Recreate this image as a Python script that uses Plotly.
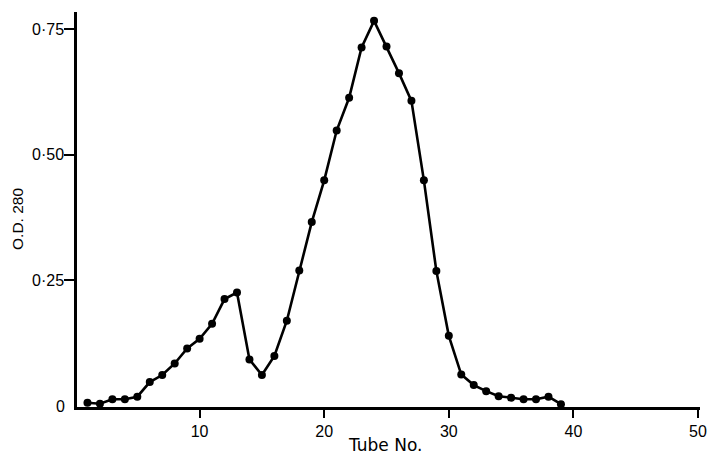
import plotly.graph_objects as go

tubes = list(range(1, 40))
od280 = [0.007, 0.005, 0.014, 0.014, 0.019, 0.048, 0.062, 0.085, 0.115, 0.134,
         0.164, 0.213, 0.226, 0.093, 0.062, 0.100, 0.170, 0.270, 0.366, 0.449,
         0.548, 0.613, 0.713, 0.766, 0.715, 0.662, 0.607, 0.449, 0.269, 0.140,
         0.063, 0.042, 0.030, 0.020, 0.017, 0.014, 0.014, 0.019, 0.004]

x_ticks = [10, 20, 30, 40, 50]
y_ticks = [0.25, 0.50, 0.75]
y_ticktext = ["0·25", "0·50", "0·75"]

FONT = "Liberation Sans, Arial, sans-serif"

fig = go.Figure()
fig.add_trace(go.Scatter(
    x=tubes, y=od280, mode="lines+markers",
    line=dict(color="black", width=2.6),
    marker=dict(color="black", size=8),
    cliponaxis=False, showlegend=False,
))

fig.update_layout(
    width=714, height=455,
    margin=dict(l=77, r=7, t=12, b=48),
    paper_bgcolor="white", plot_bgcolor="white",
    font=dict(family=FONT, size=16, color="black"),
    xaxis=dict(
        range=[0.16, 50.16], tickvals=x_ticks,
        ticks="outside", ticklen=8, tickwidth=2, tickcolor="black",
        showline=True, linewidth=2.5, linecolor="black",
        showgrid=False, zeroline=False, ticklabeloverflow="allow",
        tickfont=dict(family=FONT, size=16, color="black"),
    ),
    yaxis=dict(
        range=[-0.0015, 0.7836], tickvals=y_ticks, ticktext=y_ticktext,
        ticks="outside", ticklen=10, tickwidth=2, tickcolor="black",
        showline=True, linewidth=2.5, linecolor="black",
        showgrid=False, zeroline=False, ticklabelstandoff=-3,
        tickfont=dict(family=FONT, size=16, color="black"),
    ),
    annotations=[
        dict(text="0", x=0, xref="paper", y=0, yref="y",
             xanchor="right", yanchor="middle", xshift=-10, showarrow=False,
             font=dict(family=FONT, size=16, color="black")),
        dict(text="Tube No.", x=0.494, xref="paper", y=0, yref="paper",
             xanchor="center", yanchor="top", yshift=-26, showarrow=False,
             font=dict(family="DejaVu Sans, sans-serif", size=17, color="black")),
        dict(text="O.D. 280", x=0, xref="paper", y=0.476, yref="paper",
             xanchor="center", yanchor="middle", xshift=-59, textangle=-90,
             showarrow=False,
             font=dict(family=FONT, size=15.5, color="black")),
    ],
)

fig.write_html("out.html", config={"displayModeBar": False},
               post_script="document.body.style.margin='0';document.body.style.padding='0';")
